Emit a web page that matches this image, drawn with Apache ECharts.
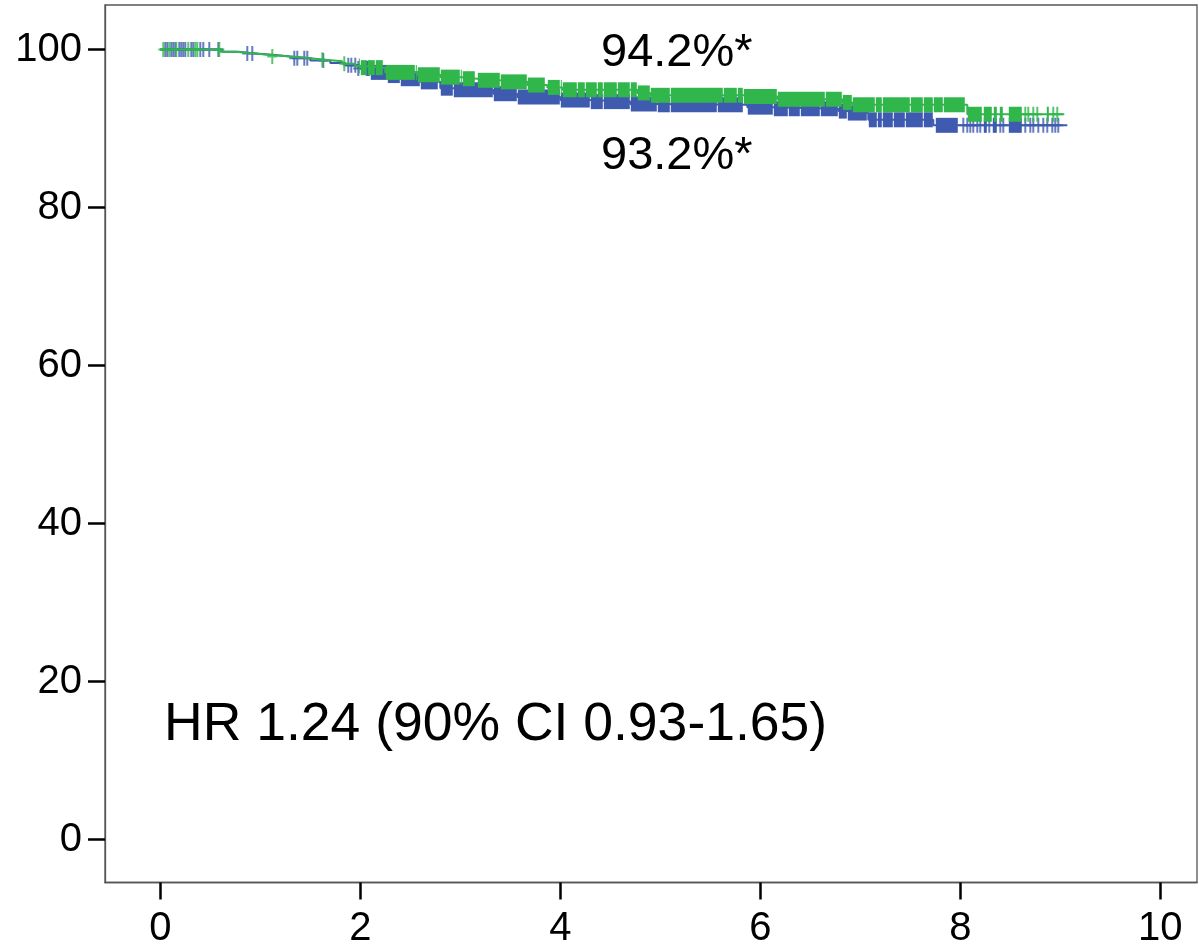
<!DOCTYPE html>
<html>
<head>
<meta charset="utf-8">
<script src="https://cdn.jsdelivr.net/npm/echarts@6/dist/echarts.min.js"></script>
<style>
html,body{margin:0;padding:0;background:#fff;}
#chart{width:1199px;height:947px;}
</style>
</head>
<body>
<div id="chart"></div>
<script>
// ---- data (time in years, survival %) ----
const xTicks = [0, 2, 4, 6, 8, 10];
const yTicks = [0, 20, 40, 60, 80, 100];

// Kaplan-Meier steps: [time of drop, survival after drop]; last point = end of follow-up
const greenSteps = [[0,100],[0.6,99.7],[0.75,99.5],[0.95,99.3],[1.1,99.1],[1.3,98.9],[1.5,98.7],[1.65,98.5],[1.82,98.2],[1.95,97.9],[2.0,97.7],[2.25,97.1],[2.57,96.8],[2.8,96.5],[3.02,96.3],[3.17,96.1],[3.4,95.9],[3.67,95.5],[3.87,95.2],[4.02,94.9],[4.77,94.5],[4.9,94.2],[5.83,94.05],[6.17,93.7],[6.82,93.3],[6.92,93.0],[8.07,91.8],[9.04,91.8]];
const blueSteps = [[0,100],[0.62,99.7],[0.78,99.5],[0.95,99.3],[1.15,99.1],[1.3,98.9],[1.5,98.6],[1.7,98.3],[1.85,98.0],[1.98,97.6],[2.1,97.1],[2.27,96.7],[2.4,96.3],[2.6,95.9],[2.8,95.1],[2.93,94.9],[3.33,94.4],[3.57,94.0],[4.0,93.6],[4.3,93.4],[4.7,93.1],[4.97,93.0],[5.87,92.7],[6.13,92.5],[6.78,92.2],[6.87,91.95],[7.08,91.1],[7.73,90.4],[9.07,90.4]];

// isolated censor marks (times)
const greenCensorTicks = [0.03,0.09,0.16,0.28,0.35,0.37,0.59,1.12,1.62,1.84,8.65,8.68,8.73,8.77,8.93,8.97];
const blueCensorTicks = [0.05,0.07,0.11,0.13,0.15,0.19,0.21,0.23,0.25,0.31,0.33,0.4,0.43,0.49,0.58,0.87,0.92,1.34,1.37,1.44,1.47,1.63,1.88,1.91,1.95,1.98,8.03,8.07,8.1,8.13,8.17,8.2,8.29,8.4,8.43,8.65,8.7,8.73,8.78,8.83,8.87,8.92,8.95,8.98];

// dense runs of censor marks: [from, to]
const greenCensorBlocks = [[1.98,2.07],[2.07,2.15],[2.15,2.23],[2.25,2.55],[2.55,2.8],[2.8,3.0],[3.0,3.15],[3.17,3.4],[3.4,3.67],[3.67,3.85],[3.87,4.0],[4.0,4.17],[4.17,4.25],[4.25,4.37],[4.37,4.43],[4.43,4.57],[4.57,4.7],[4.7,4.9],[4.9,5.1],[5.1,5.63],[5.63,5.77],[5.77,5.83],[5.83,6.17],[6.17,6.65],[6.65,6.82],[6.82,6.92],[6.92,7.15],[7.15,7.22],[7.22,7.5],[7.5,7.63],[7.63,7.73],[7.73,7.83],[7.83,8.05],[8.07,8.22],[8.23,8.32],[8.33,8.37],[8.39,8.43],[8.48,8.62],[8.86,8.89]];
const blueCensorBlocks = [[2.05,2.4],[2.4,2.78],[2.8,2.93],[2.93,3.33],[3.33,3.57],[3.57,4.0],[4.0,4.3],[4.3,4.43],[4.43,4.7],[4.7,4.97],[4.97,5.1],[5.1,5.57],[5.57,5.83],[5.87,6.13],[6.13,6.28],[6.28,6.4],[6.4,6.6],[6.6,6.78],[6.78,6.87],[6.87,7.07],[7.08,7.17],[7.17,7.22],[7.22,7.33],[7.33,7.45],[7.45,7.63],[7.63,7.73],[7.75,7.98],[8.23,8.27],[8.32,8.37],[8.48,8.62]];

const labelTop = '94.2%*';
const labelBottom = '93.2%*';
const hrText = 'HR 1.24 (90% CI 0.93-1.65)';

// ---- helpers ----
const GREEN = '#30b64b';
const BLUE = '#3f5bb0';
const FONT = '"Liberation Sans", Arial, sans-serif';

function survAt(steps, t) {
  let s = steps[0][1];
  for (const p of steps) { if (p[0] <= t) s = p[1]; else break; }
  return s;
}
function tickData(steps, times) { return times.map(t => [t, survAt(steps, t)]); }

function blockRenderer(steps, color) {
  return function (params, api) {
    const t0 = api.value(0), t1 = api.value(1);
    const children = [];
    for (let i = 0; i < steps.length - 1; i++) {
      const a = Math.max(t0, steps[i][0]);
      const b = Math.min(t1, steps[i + 1][0]);
      if (b <= a) continue;
      const p0 = api.coord([a, steps[i][1]]);
      const p1 = api.coord([b, steps[i][1]]);
      const w = Math.max(1, p1[0] - p0[0] - 1);
      children.push({
        type: 'rect',
        shape: { x: p0[0] + 0.5, y: p0[1] - 7.5, width: w, height: 15 },
        style: { fill: color }
      });
    }
    return { type: 'group', children: children };
  };
}

const plusSymbol = 'path://M4,0H6V15H4Z M0,6.5H10V8.5H0Z';

const chart = echarts.init(document.getElementById('chart'), null, { renderer: 'canvas' });
chart.setOption({
  animation: false,
  backgroundColor: '#ffffff',
  grid: { left: 105, top: 5, right: 2, bottom: 64.5, show: true, borderColor: '#555', borderWidth: 1.3, outerBoundsMode: 'none' },
  xAxis: {
    type: 'value', min: -0.553, max: 10.367,
    splitLine: { show: false },
    axisLine: { show: true, onZero: false, lineStyle: { color: '#555', width: 1.3 } },
    axisTick: { show: true, length: 17, customValues: xTicks, lineStyle: { color: '#000', width: 2.5 } },
    axisLabel: { customValues: xTicks, color: '#000', fontSize: 40, fontFamily: FONT, margin: 26 }
  },
  yAxis: {
    type: 'value', min: -5.44, max: 105.63,
    splitLine: { show: false },
    axisLine: { show: true, onZero: false, lineStyle: { color: '#555', width: 1.3 } },
    axisTick: { show: true, length: 17, customValues: yTicks, lineStyle: { color: '#000', width: 2.5 } },
    axisLabel: { customValues: yTicks, color: '#000', fontSize: 40, fontFamily: FONT, margin: 23 }
  },
  series: [
    { type: 'custom', name: 'blueBlocks', renderItem: blockRenderer(blueSteps, BLUE), data: blueCensorBlocks, encode: { x: [0, 1] }, z: 2, silent: true },
    { type: 'line', name: 'blue', step: 'end', data: blueSteps, showSymbol: false, symbol: 'none', lineStyle: { color: BLUE, width: 2 }, z: 3, silent: true },
    { type: 'scatter', name: 'blueTicks', data: tickData(blueSteps, blueCensorTicks), symbol: plusSymbol, symbolSize: [10, 15], itemStyle: { color: BLUE }, z: 3, silent: true },
    { type: 'custom', name: 'greenBlocks', renderItem: blockRenderer(greenSteps, GREEN), data: greenCensorBlocks, encode: { x: [0, 1] }, z: 4, silent: true },
    { type: 'line', name: 'green', step: 'end', data: greenSteps, showSymbol: false, symbol: 'none', lineStyle: { color: GREEN, width: 2 }, z: 5, silent: true },
    { type: 'scatter', name: 'greenTicks', data: tickData(greenSteps, greenCensorTicks), symbol: plusSymbol, symbolSize: [10, 15], itemStyle: { color: GREEN }, z: 5, silent: true }
  ],
  graphic: [
    { type: 'text', left: 601, top: 30, style: { text: labelTop, fill: '#000', font: '47px ' + FONT } },
    { type: 'text', left: 601, top: 133, style: { text: labelBottom, fill: '#000', font: '47px ' + FONT } },
    { type: 'text', left: 164, top: 698, style: { text: hrText, fill: '#000', font: '53.5px ' + FONT } }
  ]
});
</script>
</body>
</html>
